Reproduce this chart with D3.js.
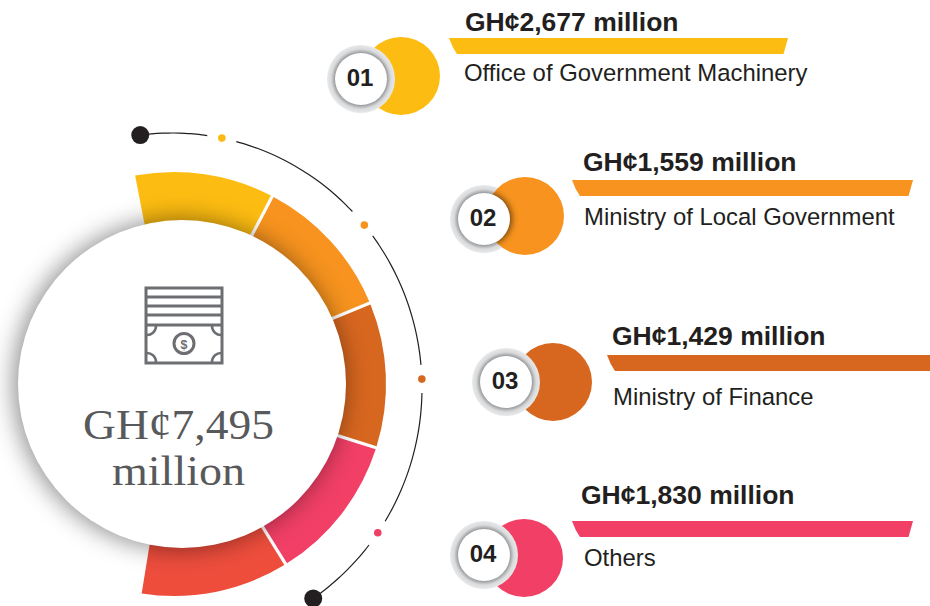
<!DOCTYPE html>
<html>
<head>
<meta charset="utf-8">
<script src="https://cdn.jsdelivr.net/npm/d3@7"></script>
<style>
  html, body { margin: 0; padding: 0; background: #fff; }
  svg { display: block; }
</style>
</head>
<body>
<svg id="svg" width="930" height="606"></svg>
<script>
// values
const badges = ['01', '02', '03', '04'];
const categories = ['Office of Government Machinery', 'Ministry of Local Government', 'Ministry of Finance', 'Others'];
const amounts = [2677, 1559, 1429, 1830];
const totalAmount = 7495;
// ring segments are decorative, spans in degrees
const ringSpans = [38.4, 39.7, 39.8, 40.5, 40.8];

const colors = ['#FDBC11', '#F7931E', '#D7661F', '#F13F66'];
const ringColors = ['#FDBC11', '#F7931E', '#D7661F', '#F13F66', '#EE4D3C'];
const dotColors = ['#FDB913', '#F7931E', '#D7661F', '#F13F66'];

// layout of the four legend rows (row 02 has its grey ring behind the colour disc)
const rows = [
  {cx: 401, cy: 76, bx: 361, by: 79, x0: 449, x1: 788, barY: 38, vx: 465, vy: 31, sx: 464, sy: 81, behind: false},
  {cx: 525, cy: 216, bx: 484, by: 219, x0: 572, x1: 913, barY: 180, vx: 583, vy: 171, sx: 584, sy: 225, behind: true},
  {cx: 553, cy: 382, bx: 506, by: 382, x0: 607, x1: 936, barY: 355, vx: 612, vy: 345, sx: 613, sy: 405, behind: false},
  {cx: 524, cy: 558, bx: 484, by: 555, x0: 572, x1: 913, barY: 521, vx: 581, vy: 504, sx: 584, sy: 566, behind: false}
];

const rad = d => d * Math.PI / 180;
const svg = d3.select('#svg');
const defs = svg.append('defs');

defs.append('filter').attr('id', 'soft')
    .attr('x', '-30%').attr('y', '-30%').attr('width', '160%').attr('height', '160%')
  .append('feGaussianBlur').attr('stdDeviation', 12);
defs.append('filter').attr('id', 'softSmall')
    .attr('x', '-30%').attr('y', '-30%').attr('width', '160%').attr('height', '160%')
  .append('feGaussianBlur').attr('stdDeviation', 3);

// the small shadow of badge 02 only falls on the colour disc
defs.append('clipPath').attr('id', 'discClip')
  .append('circle').attr('cx', rows[1].cx).attr('cy', rows[1].cy).attr('r', 39);

const badgeGrad = defs.append('radialGradient').attr('id', 'badgeRing');
badgeGrad.append('stop').attr('offset', '76%').attr('stop-color', '#97989a');
badgeGrad.append('stop').attr('offset', '88%').attr('stop-color', '#d9dadb');
badgeGrad.append('stop').attr('offset', '100%').attr('stop-color', '#e8e9ea');

// ---- ring
const ringG = svg.append('g').attr('transform', 'translate(174,384)');
const pie = d3.pie().sort(null).value(d => d)
  .startAngle(rad(-11)).endAngle(rad(189.2)).padAngle(0.013);
const arc = d3.arc().innerRadius(120).outerRadius(212).padAngle(d => d.padAngle);

ringG.selectAll('path').data(pie(ringSpans)).join('path')
  .attr('d', arc)
  .attr('fill', (d, i) => ringColors[i]);

// ---- centre disc with its shadow
svg.append('circle').attr('cx', 179).attr('cy', 384).attr('r', 165)
  .attr('fill', '#000').attr('fill-opacity', 0.45).attr('filter', 'url(#soft)');
svg.append('circle').attr('cx', 182).attr('cy', 384).attr('r', 164).attr('fill', '#fff');

// ---- icon
const grey = '#6D6E71';
const icon = svg.append('g').attr('fill', 'none').attr('stroke', grey).attr('stroke-width', 3);
icon.append('rect').attr('x', 146).attr('y', 288).attr('width', 76).attr('height', 75);
icon.selectAll('line').data([297, 306, 315, 325]).join('line')
  .attr('x1', 146).attr('x2', 222).attr('y1', d => d).attr('y2', d => d);
icon.append('circle').attr('cx', 184).attr('cy', 343.5).attr('r', 10);
icon.append('path').attr('stroke-width', 2.5)
  .attr('d', 'M146,335 A9,9 0 0 0 156,326 M222,335 A9,9 0 0 1 212,326 M146,353 A9,9 0 0 1 156,362 M222,353 A9,9 0 0 0 212,362');
svg.append('text').attr('x', 184).attr('y', 348.5).attr('text-anchor', 'middle')
  .attr('font-family', '"Liberation Sans", sans-serif').attr('font-weight', 700)
  .attr('font-size', 12.5).attr('fill', grey).text('$');

// ---- centre text
svg.append('text').attr('x', 83).attr('y', 439)
  .attr('font-family', '"Liberation Serif", serif').attr('font-size', 43)
  .attr('textLength', 191).attr('lengthAdjust', 'spacingAndGlyphs')
  .attr('fill', '#58595B').text(`GH¢${d3.format(',')(totalAmount)}`);
svg.append('text').attr('x', 112).attr('y', 485)
  .attr('font-family', '"Liberation Serif", serif').attr('font-size', 43)
  .attr('textLength', 133).attr('lengthAdjust', 'spacingAndGlyphs')
  .attr('fill', '#58595B').text('million');

// ---- outer thin arc (slightly elliptical in the original)
const orbit = {cx: 172, cy: 388, rx: 250, ry: 255};
const orbitPt = a => [orbit.cx + orbit.rx * Math.sin(rad(a)), orbit.cy - orbit.ry * Math.cos(rad(a))];
const orbitLine = d3.line().curve(d3.curveCatmullRom);
const orbitRuns = [[-7.3, 8.1], [14.9, 46.2], [53.4, 84.8], [91.1, 121.5], [128, 145.6]];
svg.append('g').selectAll('path').data(orbitRuns).join('path')
  .attr('d', ([a0, a1]) => orbitLine(d3.range(0, 13).map(k => orbitPt(a0 + (a1 - a0) * k / 12))))
  .attr('fill', 'none').attr('stroke', '#231F20').attr('stroke-width', 1.2);
svg.append('g').selectAll('circle').data([-7.3, 145.6]).join('circle')
  .attr('cx', d => orbitPt(d)[0]).attr('cy', d => orbitPt(d)[1]).attr('r', 9).attr('fill', '#231F20');
svg.append('g').selectAll('circle').data([11.5, 50.3, 88, 124.6]).join('circle')
  .attr('cx', d => orbitPt(d)[0]).attr('cy', d => orbitPt(d)[1]).attr('r', 3.8)
  .attr('fill', (d, i) => dotColors[i]);

// ---- legend rows
const row = svg.append('g').selectAll('g').data(rows).join('g');

row.filter(d => d.behind).append('circle').attr('cx', d => d.bx).attr('cy', d => d.by).attr('r', 34)
  .attr('fill', 'url(#badgeRing)');
row.append('circle').attr('cx', d => d.cx).attr('cy', d => d.cy).attr('r', 39)
  .attr('fill', d => colors[rows.indexOf(d)]);
row.filter(d => !d.behind).append('circle').attr('cx', d => d.bx).attr('cy', d => d.by).attr('r', 34)
  .attr('fill', 'url(#badgeRing)');
row.filter(d => d.behind).append('g').attr('clip-path', 'url(#discClip)')
  .append('circle').attr('cx', d => d.bx + 1).attr('cy', d => d.by).attr('r', 27)
  .attr('fill', '#000').attr('fill-opacity', 0.55).attr('filter', 'url(#softSmall)');
row.append('circle').attr('cx', d => d.bx).attr('cy', d => d.by).attr('r', 26).attr('fill', '#fff');
row.append('text').attr('x', d => d.bx - 1).attr('y', d => d.by + 7).attr('text-anchor', 'middle')
  .attr('font-family', '"Liberation Sans", sans-serif').attr('font-weight', 700).attr('font-size', 24)
  .attr('fill', '#231F20').text((d, i) => badges[i]);

// bar with its slanted, slightly curved ends
row.append('path')
  .attr('d', d => {
    const p = d3.path();
    p.moveTo(d.x0, d.barY);
    p.lineTo(d.x1, d.barY);
    p.lineTo(d.x1 - 4.5, d.barY + 16);
    p.lineTo(d.x0 + 8, d.barY + 16);
    p.quadraticCurveTo(d.x0 + 3, d.barY + 9, d.x0, d.barY);
    p.closePath();
    return p.toString();
  })
  .attr('fill', (d, i) => colors[i]);

row.append('text').attr('x', d => d.vx).attr('y', d => d.vy)
  .attr('font-family', '"Liberation Sans", sans-serif').attr('font-weight', 700).attr('font-size', 26.5)
  .attr('fill', '#231F20').text((d, i) => `GH¢${d3.format(',')(amounts[i])} million`);
row.append('text').attr('x', d => d.sx).attr('y', d => d.sy)
  .attr('font-family', '"Liberation Sans", sans-serif').attr('font-size', 23.9)
  .attr('fill', '#231F20').text((d, i) => categories[i]);
</script>
</body>
</html>
